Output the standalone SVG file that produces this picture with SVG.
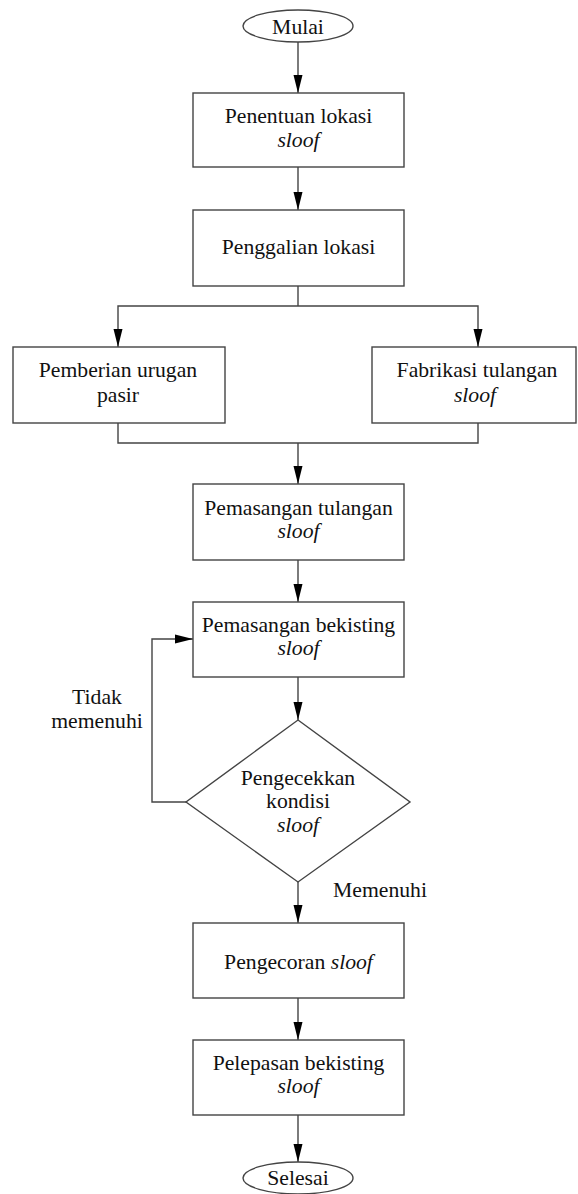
<svg xmlns="http://www.w3.org/2000/svg" width="578" height="1194" viewBox="0 0 578 1194">
  <style>
    .shape { fill: #ffffff; stroke: #444444; stroke-width: 1.4; }
    .wire { fill: none; stroke: #444444; stroke-width: 1.4; }
    .lbl { font-family: 'Liberation Serif', 'Times New Roman', 'DejaVu Serif', serif; font-size: 21.7px; fill: #111111; text-anchor: middle; }
    .it { font-style: italic; }
  </style>
  <defs>
    <marker id="arrow" viewBox="0 0 18 10" refX="18" refY="5" markerWidth="18" markerHeight="10" markerUnits="userSpaceOnUse" orient="auto">
      <path d="M0,0.5 L18,5 L0,9.5 Z" fill="#000000"/>
    </marker>
  </defs>

  <!-- connectors -->
  <g id="connectors">
    <line class="wire" x1="298" y1="42" x2="298" y2="93" marker-end="url(#arrow)"/>
    <line class="wire" x1="298" y1="167" x2="298" y2="210" marker-end="url(#arrow)"/>
    <line class="wire" x1="298" y1="286" x2="298" y2="306"/>
    <polyline class="wire" points="298,306 118,306 118,347" marker-end="url(#arrow)"/>
    <polyline class="wire" points="298,306 478,306 478,347" marker-end="url(#arrow)"/>
    <polyline class="wire" points="118,423 118,443 478,443 478,423"/>
    <line class="wire" x1="298" y1="443" x2="298" y2="484" marker-end="url(#arrow)"/>
    <line class="wire" x1="298" y1="560" x2="298" y2="602" marker-end="url(#arrow)"/>
    <line class="wire" x1="298" y1="677" x2="298" y2="720" marker-end="url(#arrow)"/>
    <polyline class="wire" points="186,802 152,802 152,639 193,639" marker-end="url(#arrow)"/>
    <line class="wire" x1="298" y1="882" x2="298" y2="923" marker-end="url(#arrow)"/>
    <line class="wire" x1="298" y1="998" x2="298" y2="1040" marker-end="url(#arrow)"/>
    <line class="wire" x1="298" y1="1115" x2="298" y2="1162" marker-end="url(#arrow)"/>
    <text class="lbl" x="97" y="704">Tidak</text>
    <text class="lbl" x="97" y="728">memenuhi</text>
    <text class="lbl" x="380" y="897">Memenuhi</text>
  </g>

  <g id="mulai">
    <ellipse class="shape" cx="298" cy="26" rx="55" ry="16"/>
    <text class="lbl" x="298" y="34">Mulai</text>
  </g>

  <g id="penentuan-lokasi">
    <rect class="shape" x="193" y="93" width="211" height="74"/>
    <text class="lbl" x="298.5" y="123">Penentuan lokasi</text>
    <text class="lbl it" x="298.5" y="147">sloof</text>
  </g>

  <g id="penggalian-lokasi">
    <rect class="shape" x="193" y="210" width="211" height="76"/>
    <text class="lbl" x="298.5" y="254">Penggalian lokasi</text>
  </g>

  <g id="urugan-pasir">
    <rect class="shape" x="13" y="347" width="212" height="76"/>
    <text class="lbl" x="118" y="377">Pemberian urugan</text>
    <text class="lbl" x="118" y="402">pasir</text>
  </g>

  <g id="fabrikasi-tulangan">
    <rect class="shape" x="372" y="347" width="204" height="76"/>
    <text class="lbl" x="477" y="377">Fabrikasi tulangan</text>
    <text class="lbl it" x="475" y="402">sloof</text>
  </g>

  <g id="pemasangan-tulangan">
    <rect class="shape" x="193" y="484" width="211" height="76"/>
    <text class="lbl" x="298.5" y="515">Pemasangan tulangan</text>
    <text class="lbl it" x="298.5" y="538">sloof</text>
  </g>

  <g id="pemasangan-bekisting">
    <rect class="shape" x="193" y="602" width="211" height="75"/>
    <text class="lbl" x="298.5" y="632">Pemasangan bekisting</text>
    <text class="lbl it" x="298.5" y="655">sloof</text>
  </g>

  <g id="pengecekan-kondisi">
    <polygon class="shape" points="298,720 410,802 298,882 186,802"/>
    <text class="lbl" x="298" y="785">Pengecekkan</text>
    <text class="lbl" x="298" y="808">kondisi</text>
    <text class="lbl it" x="298" y="832">sloof</text>
  </g>

  <g id="pengecoran">
    <rect class="shape" x="193" y="923" width="211" height="75"/>
    <text class="lbl" x="298.5" y="969">Pengecoran <tspan class="it">sloof</tspan></text>
  </g>

  <g id="pelepasan-bekisting">
    <rect class="shape" x="193" y="1040" width="211" height="75"/>
    <text class="lbl" x="298.5" y="1070">Pelepasan bekisting</text>
    <text class="lbl it" x="298.5" y="1093">sloof</text>
  </g>

  <g id="selesai">
    <ellipse class="shape" cx="298" cy="1178" rx="55" ry="16"/>
    <text class="lbl" x="298" y="1185">Selesai</text>
  </g>
</svg>
